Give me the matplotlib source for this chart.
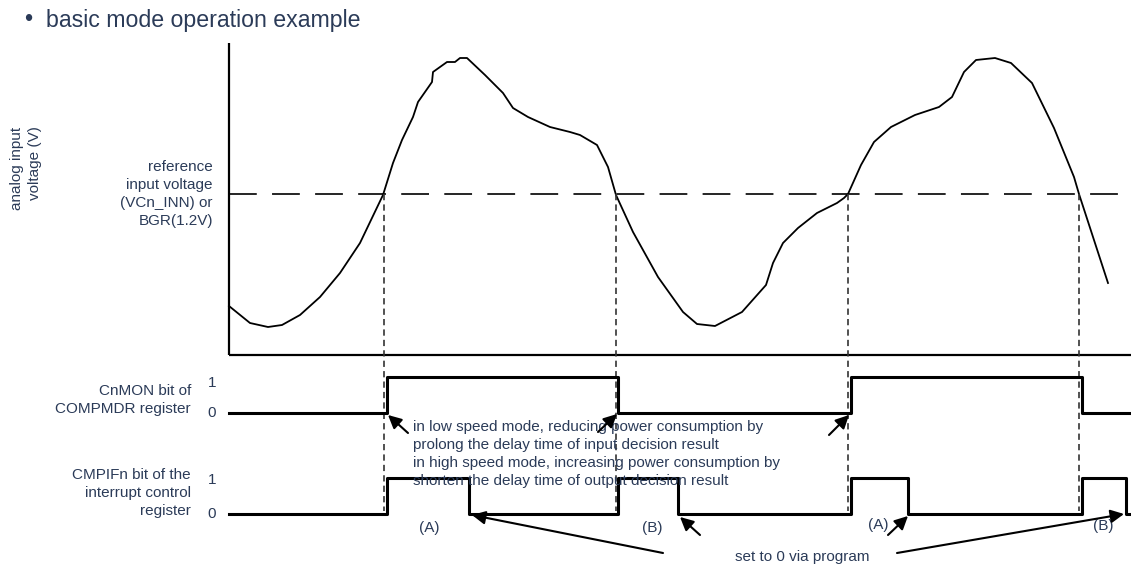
import matplotlib
matplotlib.use('Agg')
import matplotlib.pyplot as plt

plt.rcParams['font.family'] = ['Liberation Sans', 'DejaVu Sans']
plt.rcParams['lines.scale_dashes'] = False

txt_col = '#2b3b58'

# analog input waveform (time, voltage) in drawing units
wave_t = [0, 21, 39, 53, 71, 91, 111, 131, 154, 164, 173, 184, 189, 203, 204, 218, 226, 231, 238, 256,
          261, 274, 284, 299, 321, 341, 351, 368, 379, 387, 404, 429, 454, 468, 486, 513, 537, 544, 554, 569,
          588, 608, 615, 619, 632, 645, 662, 686, 710, 723, 735, 747, 766, 782, 803, 825, 845, 850, 879]
wave_v = [49, 32, 28, 30, 40, 58, 82, 112, 160, 192, 215, 238, 253, 273, 283, 293, 293, 297, 297, 280,
          275, 262, 247, 238, 228, 223, 220, 210, 188, 160, 123, 78, 43, 31, 29, 43, 70, 92, 112, 127,
          142, 152, 157, 161, 190, 213, 228, 240, 248, 258, 283, 295, 297, 292, 272, 227, 178, 161, 72]
ref_v = 161
t_end = 902
v_top = 312

# crossing points of the waveform with the reference level
cross_t = [155, 387, 619, 850]

# CnMON bit edges (rise, fall, rise, fall)
mon_edges = [158, 389, 622, 853]
mon_lo, mon_hi = -58, -22

# CMPIFn pulses (set, cleared by program)
if_pulses = [(158, 240), (389, 449), (622, 679), (853, 897)]
if_lo, if_hi = -159, -123

fig = plt.figure(figsize=(11.31, 5.67), dpi=100)
ax = fig.add_axes([0, 0, 1, 1])
ax.set_xlim(-229, 902)
ax.set_ylim(-212, 355)
ax.axis('off')

# axes of the analog chart
ax.plot([0, 0], [0, v_top], color='black', lw=1.6, solid_capstyle='butt')
ax.plot([0, t_end], [0, 0], color='black', lw=1.6, solid_capstyle='butt')

# reference level
ax.plot([0, t_end], [ref_v, ref_v], color='black', lw=1.2, dashes=(20, 11))

# waveform
ax.plot(wave_t, wave_v, color='black', lw=1.3, solid_joinstyle='round')

# vertical dotted guides
for c in cross_t:
    ax.plot([c, c], [ref_v, if_lo + 3], color='#333333', lw=1.2, dashes=(4.5, 3))

# CnMON trace
xs, ys = [0], [mon_lo]
lvl = mon_lo
for e in mon_edges:
    xs += [e, e]
    ys += [lvl, mon_hi if lvl == mon_lo else mon_lo]
    lvl = ys[-1]
xs.append(t_end)
ys.append(lvl)
ax.plot(xs, ys, color='black', lw=2.2)

# CMPIFn trace
xs, ys = [0], [if_lo]
for a, b in if_pulses:
    xs += [a, a, b, b]
    ys += [if_lo, if_hi, if_hi, if_lo]
xs.append(t_end)
ys.append(if_lo)
ax.plot(xs, ys, color='black', lw=2.2)

fs = 11
ls = 1.38
# left labels
ax.text(-203, 187, 'analog input\nvoltage (V)', rotation=90, ha='center', va='center',
        multialignment='right', fontsize=fs, color=txt_col, linespacing=ls)
ax.text(-16, ref_v, 'reference\ninput voltage\n(VCn_INN) or\nBGR(1.2V)', ha='right', va='center',
        multialignment='right', fontsize=fs, color=txt_col, linespacing=ls)
ax.text(-38, -45, 'CnMON bit of\nCOMPMDR register', ha='right', va='center',
        multialignment='right', fontsize=fs, color=txt_col, linespacing=ls)
ax.text(-38, -138, 'CMPIFn bit of the\ninterrupt control\nregister', ha='right', va='center',
        multialignment='right', fontsize=fs, color=txt_col, linespacing=ls)
for v, s in [(mon_hi - 6, '1'), (mon_lo, '0'), (if_hi - 2, '1'), (if_lo, '0')]:
    ax.text(-17, v, s, ha='center', va='center', fontsize=fs, color=txt_col)

# note text
ax.text(184, -99, 'in low speed mode, reducing power consumption by\n'
        'prolong the delay time of input decision result\n'
        'in high speed mode, increasing power consumption by\n'
        'shorten the delay time of output decision result',
        ha='left', va='center', fontsize=fs, color=txt_col, linespacing=ls)

for t, v, s in [(200, -173, '(A)'), (423, -173, '(B)'), (649, -170, '(A)'), (874, -171, '(B)')]:
    ax.text(t, v, s, ha='center', va='center', fontsize=fs, color=txt_col)
ax.text(573, -202, 'set to 0 via program', ha='center', va='center', fontsize=fs, color=txt_col)

# arrows
arr = dict(arrowstyle='-|>', color='black', lw=1.5, mutation_scale=20, shrinkA=0, shrinkB=0)
for tail, head in [((179, -78), (159, -60)), ((369, -77), (388, -59)), ((600, -80), (620, -60)),
                   ((471, -180), (451, -162)), ((659, -180), (679, -161)),
                   ((434, -198), (243, -160)), ((668, -198), (895, -159))]:
    ax.annotate('', xy=head, xytext=tail, arrowprops=arr)

# title
fig.text(24 / 1131, 1 - 20 / 567, '\u2022', fontsize=17, color=txt_col, ha='left', va='center')
fig.text(46 / 1131, 1 - 20 / 567, 'basic mode operation example', fontsize=16.7, color=txt_col,
         ha='left', va='center')

fig.savefig('out.png', dpi=100)
